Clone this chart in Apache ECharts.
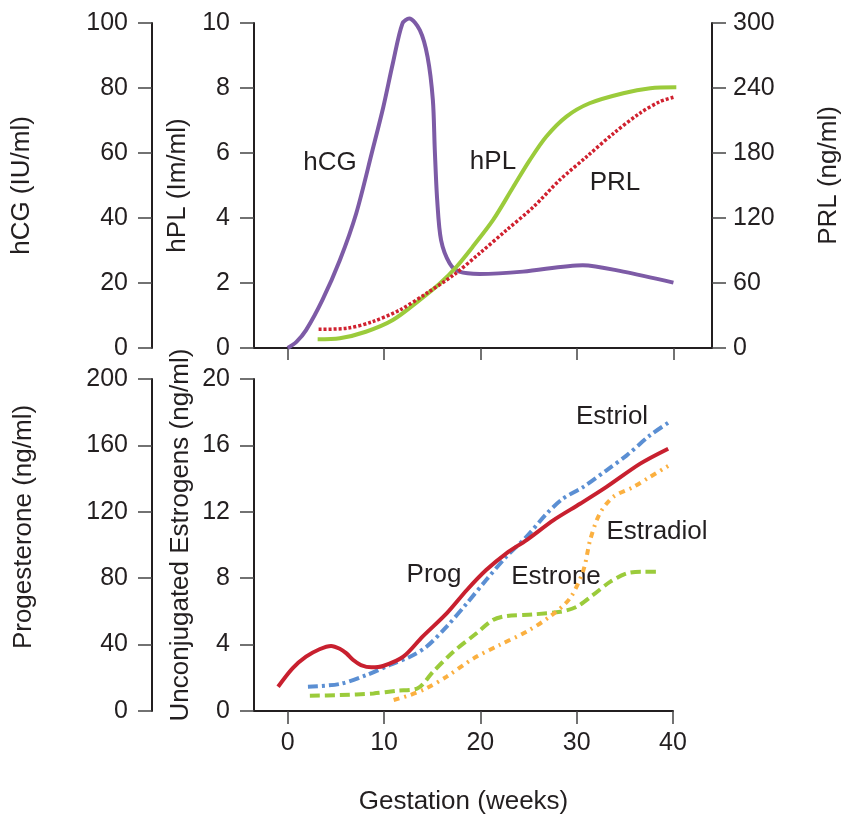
<!DOCTYPE html>
<html>
<head>
<meta charset="utf-8">
<script src="https://cdn.jsdelivr.net/npm/echarts@6/dist/echarts.min.js"></script>
<style>
  html, body { margin: 0; padding: 0; background: #fff; }
  #main { width: 855px; height: 820px; }
</style>
</head>
<body>
<div id="main"></div>
<script>
  // top panel: hCG (IU/ml), hPL (Im/ml), PRL (ng/ml)
  const hcgWeeks = [0, 0.9, 1.9, 3.6, 5.4, 7.1, 8.8, 9.9, 10.9, 11.9, 12.6, 13.7, 14.5, 15.05, 15.25, 15.5, 15.9, 16.8, 17.8, 19.9, 24.4, 30.6, 34.8, 40]
  const hcgValues = [0, 1.9, 5.5, 14.8, 27, 41.4, 61, 74, 87.6, 99.9, 101.4, 97.8, 89.6, 76.3, 61, 45.5, 33.2, 26, 23.5, 22.8, 23.5, 25.5, 23.5, 20.1]

  const hplWeeks = [3.1, 5.4, 8.1, 10.9, 13.7, 15.8, 17.5, 19.2, 21.3, 23.4, 25.1, 26.8, 28.9, 31.3, 34.8, 37.6, 40.3]
  const hplValues = [0.27, 0.3, 0.5, 0.86, 1.48, 1.99, 2.5, 3.12, 3.94, 4.96, 5.78, 6.5, 7.12, 7.53, 7.84, 7.99, 8.02]

  const prlWeeks = [3.2, 6.1, 8.8, 11.6, 14.4, 17.2, 19.9, 22.7, 25.5, 28.2, 31.0, 33.8, 36.5, 38.6, 40.2]
  const prlValues = [17.2, 18.2, 24.3, 35, 50.5, 67.4, 87.4, 108.9, 130.4, 155, 176.6, 198.2, 216.6, 227.4, 232]

  // bottom panel: progesterone (ng/ml) and unconjugated estrogens (ng/ml)
  const progWeeks = [-1.0, 0.5, 1.9, 3.3, 4.5, 5.4, 6.1, 6.8, 7.6, 8.7, 9.9, 12.0, 14.0, 16.5, 18.6, 20.6, 22.7, 24.8, 27.6, 30.4, 33.1, 36.6, 39.5]
  const progValues = [14.6, 25.7, 32.7, 37.2, 39.2, 37.5, 34.7, 30.7, 27.7, 26.3, 27.1, 32.7, 44.8, 58.8, 72.9, 84.9, 95, 103, 115, 125, 135, 149, 158]

  const estriolWeeks = [2.1, 5.4, 8.2, 10.6, 12.7, 14.4, 16.5, 18.6, 20.6, 22.7, 24.8, 26.9, 28.6, 30.7, 33.1, 35.2, 37.6, 39.6]
  const estriolValues = [1.46, 1.63, 2.17, 2.77, 3.27, 3.87, 5.08, 6.49, 7.89, 9.3, 10.5, 11.9, 12.8, 13.5, 14.5, 15.4, 16.6, 17.4]

  const estroneWeeks = [2.3, 5.4, 8.9, 11.3, 13.5, 15.1, 17.2, 19.6, 21.3, 22.7, 25.5, 28.3, 30.0, 31.7, 33.5, 35.2, 36.9, 38.7]
  const estroneValues = [0.92, 0.96, 1.06, 1.22, 1.37, 2.37, 3.57, 4.68, 5.48, 5.72, 5.82, 5.98, 6.28, 6.99, 7.79, 8.29, 8.39, 8.39]

  const estradiolWeeks = [11.0, 12.7, 14.4, 16.5, 19.3, 22.0, 24.8, 27.2, 29.3, 30.7, 31.4, 32.4, 33.8, 35.9, 37.6, 39.5]
  const estradiolValues = [0.66, 0.96, 1.37, 2.07, 3.17, 3.98, 4.78, 5.68, 6.79, 8.49, 10.3, 11.9, 12.9, 13.5, 14.1, 14.76]

  const weekTicks = [0, 10, 20, 30, 40]

  const FONT = '"Liberation Sans", Arial, Helvetica, sans-serif'
  const INK = '#231f20'

  function pairs (xs, ys) {
    return xs.map((x, i) => [x, ys[i]])
  }

  function yAxis (gridIndex, position, offset, max, interval, name, nameGap, namePad) {
    return {
      type: 'value',
      gridIndex: gridIndex,
      position: position,
      offset: offset,
      min: 0,
      max: max,
      interval: interval,
      name: name,
      nameLocation: 'middle',
      nameRotate: 90,
      nameGap: nameGap,
      nameTextStyle: { color: INK, fontSize: 26, fontFamily: FONT, padding: namePad },
      axisLine: { show: true, onZero: false, lineStyle: { color: INK, width: 2 } },
      axisTick: { show: true, length: 14, lineStyle: { color: '#444', width: 1.5 } },
      axisLabel: { color: INK, fontSize: 25, fontFamily: FONT, margin: position === 'right' ? 21 : 24 },
      splitLine: { show: false }
    }
  }

  function line (name, xAxisIndex, yAxisIndex, data, color, type, width) {
    return {
      name: name,
      type: 'line',
      xAxisIndex: xAxisIndex,
      yAxisIndex: yAxisIndex,
      data: data,
      smooth: 0.3,
      showSymbol: false,
      symbol: 'none',
      clip: false,
      lineStyle: { color: color, type: type, width: width, cap: 'butt' }
    }
  }

  function label (text, x, y) {
    return {
      type: 'text',
      x: x,
      y: y,
      style: {
        text: text,
        font: '26px ' + FONT,
        fill: INK,
        align: 'center',
        verticalAlign: 'middle',
        textAlign: 'center',
        textVerticalAlign: 'middle'
      }
    }
  }

  const chart = echarts.init(document.getElementById('main'))
  chart.setOption({
    backgroundColor: '#fff',
    animation: false,
    grid: [
      { left: 254, top: 23, width: 458, height: 325 },
      { left: 254, top: 379, width: 419, height: 332 }
    ],
    xAxis: [{
      type: 'value',
      gridIndex: 0,
      min: -3.5,
      max: 44,
      axisLine: { show: true, onZero: false, lineStyle: { color: INK, width: 2 } },
      axisTick: { show: true, length: 12, customValues: weekTicks, lineStyle: { color: '#444', width: 1.5 } },
      axisLabel: { show: false, customValues: weekTicks },
      splitLine: { show: false }
    }, {
      type: 'value',
      gridIndex: 1,
      min: -3.5,
      max: 40,
      name: 'Gestation (weeks)',
      nameLocation: 'middle',
      nameGap: 78,
      nameTextStyle: { color: INK, fontSize: 26, fontFamily: FONT },
      axisLine: { show: true, onZero: false, lineStyle: { color: INK, width: 2 } },
      axisTick: { show: true, length: 13, customValues: weekTicks, lineStyle: { color: '#444', width: 1.5 } },
      axisLabel: { color: INK, fontSize: 25, fontFamily: FONT, margin: 20, customValues: weekTicks },
      splitLine: { show: false }
    }],
    yAxis: [
      yAxis(0, 'left', 102, 100, 20, 'hCG (IU/ml)', 117, 0),
      yAxis(0, 'left', 0, 10, 2, 'hPL (Im/ml)', 59, 0),
      yAxis(0, 'right', 0, 300, 60, 'PRL (ng/ml)', 104, [0, 0, 0, 20]),
      yAxis(1, 'left', 102, 200, 40, 'Progesterone (ng/ml)', 115, [0, 0, 0, 36]),
      yAxis(1, 'left', 0, 20, 4, 'Unconjugated Estrogens (ng/ml)', 60, [0, 0, 0, 20])
    ],
    series: [
      line('hCG', 0, 0, pairs(hcgWeeks, hcgValues), '#7d5ba6', 'solid', 4),
      line('hPL', 0, 1, pairs(hplWeeks, hplValues), '#9bcb3b', 'solid', 4),
      line('PRL', 0, 2, pairs(prlWeeks, prlValues), '#d0212f', [3, 2], 3.5),
      line('Estrone', 1, 4, pairs(estroneWeeks, estroneValues), '#9bcb3b', [10, 5], 4),
      line('Estradiol', 1, 4, pairs(estradiolWeeks, estradiolValues), '#fbb040', [6, 5, 2, 5], 4),
      line('Estriol', 1, 4, pairs(estriolWeeks, estriolValues), '#5b8fd3', [10, 4, 3, 4], 4),
      line('Prog', 1, 3, pairs(progWeeks, progValues), '#c8202f', 'solid', 4)
    ],
    graphic: [
      label('hCG', 330, 163),
      label('hPL', 493, 162),
      label('PRL', 615, 183),
      label('Estriol', 612, 417),
      label('Estradiol', 657, 532),
      label('Prog', 434, 575),
      label('Estrone', 556, 577)
    ]
  })
  window.addEventListener('resize', function () {
    chart.resize()
  })
</script>
</body>
</html>
